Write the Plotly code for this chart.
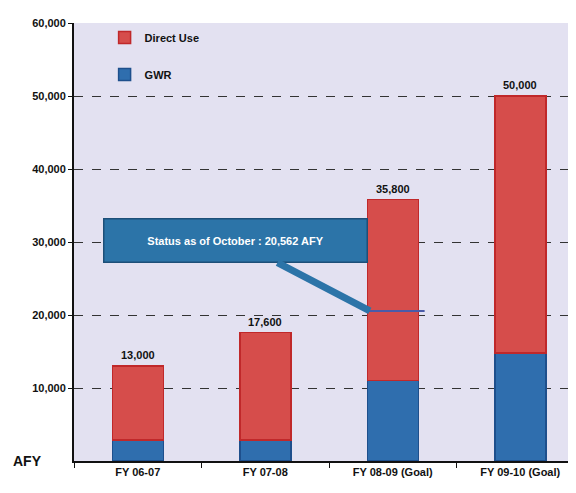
import plotly.graph_objects as go

categorias = ['FY 06-07', 'FY 07-08', 'FY 08-09 (Goal)', 'FY 09-10 (Goal)']
totales = [13000, 17600, 35800, 50000]
gwr = [2900, 2900, 11000, 14800]
uso_directo = [t - g for t, g in zip(totales, gwr)]
etiquetas_total = ['13,000', '17,600', '35,800', '50,000']
valores_eje_y = [10000, 20000, 30000, 40000, 50000, 60000]
estado_octubre = 20562

FUENTE = 'Liberation Sans, Arial, sans-serif'

fig = go.Figure()
fig.add_trace(go.Bar(
    x=categorias, y=gwr, name='<b>GWR</b>', legendgroup='g', legendrank=2,
    marker=dict(color='#2F6EAE', line=dict(color='#1E4F8C', width=1.5)),
))
fig.add_trace(go.Bar(
    x=categorias, y=uso_directo, name='<b>Direct Use</b>', legendgroup='d', legendrank=1,
    marker=dict(color='#D64D4B', line=dict(color='#C0282A', width=1.5)),
))

# etiquetas de total encima de cada barra
for cat, tot, txt in zip(categorias, totales, etiquetas_total):
    fig.add_annotation(
        x=cat, y=tot, text=f'<b>{txt}</b>', showarrow=False,
        yanchor='bottom', yshift=3, font=dict(size=11, color='#111111', family=FUENTE),
    )

# marca del estado a octubre
fig.add_shape(
    type='line', xref='x', yref='y',
    x0=1.8, x1=2.25, y0=estado_octubre, y1=estado_octubre,
    line=dict(color='#4A5BA8', width=2),
)
fig.add_annotation(
    x=1.82, y=estado_octubre, ax=-134, ay=-70,
    text='<b>Status as of October : 20,562 AFY</b>',
    showarrow=True, arrowhead=0, arrowwidth=7, arrowcolor='#2C74A8',
    bgcolor='#2C74A8', bordercolor='#1D4F78', borderwidth=1.5, borderpad=15,
    font=dict(size=11, color='white', family=FUENTE),
    width=232,
)

fig.add_annotation(
    xref='paper', yref='paper', x=-0.11, y=0.0, xanchor='right', yanchor='middle',
    text='<b>AFY</b>', showarrow=False, xshift=26,
    font=dict(size=14, color='#111111', family=FUENTE),
)

fig.update_layout(
    barmode='stack', bargap=0.6,
    width=576, height=493,
    margin=dict(l=66, r=0, t=15, b=40),
    paper_bgcolor='white', plot_bgcolor='#E3E1F1',
    font=dict(family=FUENTE, size=11, color='#111111'),
    showlegend=True,
    legend=dict(
        x=0.06, y=1.0, xanchor='left', yanchor='top',
        traceorder='grouped', tracegroupgap=18, bgcolor='rgba(0,0,0,0)',
        font=dict(size=11, family=FUENTE), itemwidth=30,
    ),
    xaxis=dict(
        showline=True, linecolor='#111111', linewidth=2,
        ticks='outside', tickson='boundaries', ticklen=5, tickcolor='#111111',
        tickfont=dict(size=11, family=FUENTE), showgrid=False,
        tickprefix='<b>', ticksuffix='</b>',
    ),
    yaxis=dict(
        range=[0, 60000], tickvals=valores_eje_y,
        ticktext=[f'<b>{v:,}</b>' for v in valores_eje_y],
        showline=True, linecolor='#111111', linewidth=2,
        ticks='outside', ticklen=4, tickcolor='#111111',
        showgrid=True, gridcolor='#333333', gridwidth=1.2, griddash='dash',
        tickfont=dict(size=11, family=FUENTE), zeroline=False,
    ),
)

fig.write_html('out.html')
